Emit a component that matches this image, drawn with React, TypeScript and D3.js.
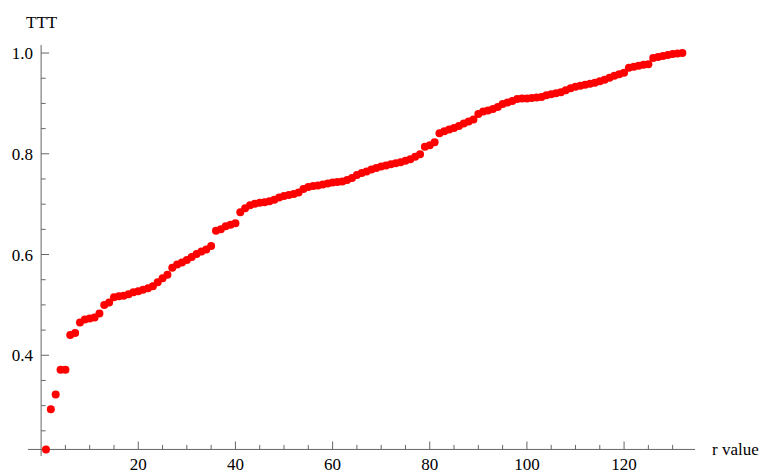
import * as d3 from 'd3';
import React, { useRef, useEffect } from 'react';

// TTT plot, r = 1..132

const ttt: number[] = [
  0.213, 0.293, 0.322, 0.371, 0.371, 0.440, 0.444, 0.465, 0.471, 0.473,
  0.475, 0.483, 0.500, 0.505, 0.515, 0.517, 0.518, 0.521, 0.525, 0.527,
  0.530, 0.533, 0.537, 0.545, 0.553, 0.560, 0.574, 0.580, 0.584, 0.589,
  0.595, 0.601, 0.606, 0.610, 0.617, 0.647, 0.650, 0.656, 0.659, 0.662,
  0.684, 0.692, 0.698, 0.701, 0.703, 0.704, 0.706, 0.709, 0.713, 0.716,
  0.718, 0.720, 0.723, 0.730, 0.734, 0.736, 0.737, 0.739, 0.741, 0.743,
  0.744, 0.745, 0.748, 0.752, 0.758, 0.762, 0.765, 0.769, 0.772, 0.775,
  0.777, 0.779, 0.781, 0.783, 0.786, 0.789, 0.794, 0.799, 0.814, 0.817,
  0.823, 0.841, 0.845, 0.848, 0.851, 0.855, 0.860, 0.864, 0.868, 0.879,
  0.884, 0.886, 0.889, 0.893, 0.899, 0.902, 0.905, 0.909, 0.910, 0.910,
  0.911, 0.912, 0.913, 0.916, 0.918, 0.920, 0.922, 0.926, 0.930, 0.933,
  0.935, 0.937, 0.939, 0.941, 0.944, 0.947, 0.951, 0.955, 0.958, 0.961,
  0.971, 0.973, 0.975, 0.977, 0.978, 0.990, 0.992, 0.994, 0.996, 0.998,
  0.999, 1.000
];
const rValues: number[] = ttt.map((_, i) => i + 1);

const xMajor = [20, 40, 60, 80, 100, 120];
const xMinor = [5, 10, 15, 25, 30, 35, 45, 50, 55, 65, 70, 75, 85, 90, 95, 105, 110, 115, 125, 130];
const yMajor = [0.4, 0.6, 0.8, 1.0];
const yMinor = [0.25, 0.3, 0.35, 0.45, 0.5, 0.55, 0.65, 0.7, 0.75, 0.85, 0.9, 0.95];

const width = 765;
const height = 474;
const font = '"Liberation Serif", "Times New Roman", serif';
const axisColor = '#666666';

const App = () => {
  const svgRef = useRef<SVGSVGElement>(null);

  useEffect(() => {
    const x = d3.scaleLinear().domain([-2.7, 134.6]).range([28, 695]);
    const y = d3.scaleLinear().domain([0.2, 1.016]).range([456, 45]);
    const axisY = y(0.213); // x axis crosses at the first value
    const axisX = x(0);

    const svg = d3.select(svgRef.current);
    svg.selectAll('*').remove();

    // x axis
    svg.append('line')
      .attr('x1', x.range()[0]).attr('x2', x.range()[1])
      .attr('y1', axisY).attr('y2', axisY)
      .attr('stroke', axisColor);
    svg.selectAll('.xmaj').data(xMajor).enter().append('line')
      .attr('x1', d => x(d)).attr('x2', d => x(d))
      .attr('y1', axisY).attr('y2', axisY - 8)
      .attr('stroke', axisColor);
    svg.selectAll('.xmin').data(xMinor).enter().append('line')
      .attr('x1', d => x(d)).attr('x2', d => x(d))
      .attr('y1', axisY).attr('y2', axisY - 4.5)
      .attr('stroke', axisColor);
    svg.selectAll('.xlab').data(xMajor).enter().append('text')
      .attr('x', d => x(d)).attr('y', axisY + 20.5)
      .attr('text-anchor', 'middle')
      .style('font-family', font).style('font-size', '17px')
      .text(d => d3.format('d')(d));

    // y axis
    svg.append('line')
      .attr('x1', axisX).attr('x2', axisX)
      .attr('y1', y.range()[0]).attr('y2', y.range()[1])
      .attr('stroke', axisColor);
    svg.selectAll('.ymaj').data(yMajor).enter().append('line')
      .attr('x1', axisX).attr('x2', axisX + 8)
      .attr('y1', d => y(d)).attr('y2', d => y(d))
      .attr('stroke', axisColor);
    svg.selectAll('.ymin').data(yMinor).enter().append('line')
      .attr('x1', axisX).attr('x2', axisX + 4.5)
      .attr('y1', d => y(d)).attr('y2', d => y(d))
      .attr('stroke', axisColor);
    svg.selectAll('.ylab').data(yMajor).enter().append('text')
      .attr('x', axisX - 8).attr('y', d => y(d) + 6)
      .attr('text-anchor', 'end')
      .style('font-family', font).style('font-size', '17px')
      .text(d => d3.format('.1f')(d));

    // axis labels
    svg.append('text')
      .attr('x', 26).attr('y', 28)
      .style('font-family', font).style('font-size', '17px')
      .text('TTT');
    svg.append('text')
      .attr('x', 712).attr('y', 455)
      .style('font-family', font).style('font-size', '17px')
      .text('r value');

    // points
    svg.selectAll('.pt').data(ttt).enter().append('circle')
      .attr('cx', (_, i) => x(rValues[i]))
      .attr('cy', d => y(d))
      .attr('r', 4)
      .attr('fill', '#ff0000');
  }, []);

  return (
    <svg
      ref={svgRef}
      width={width}
      height={height}
      style={{ position: 'absolute', left: 0, top: 0, background: '#ffffff' }}
    />
  );
};

export default App;
